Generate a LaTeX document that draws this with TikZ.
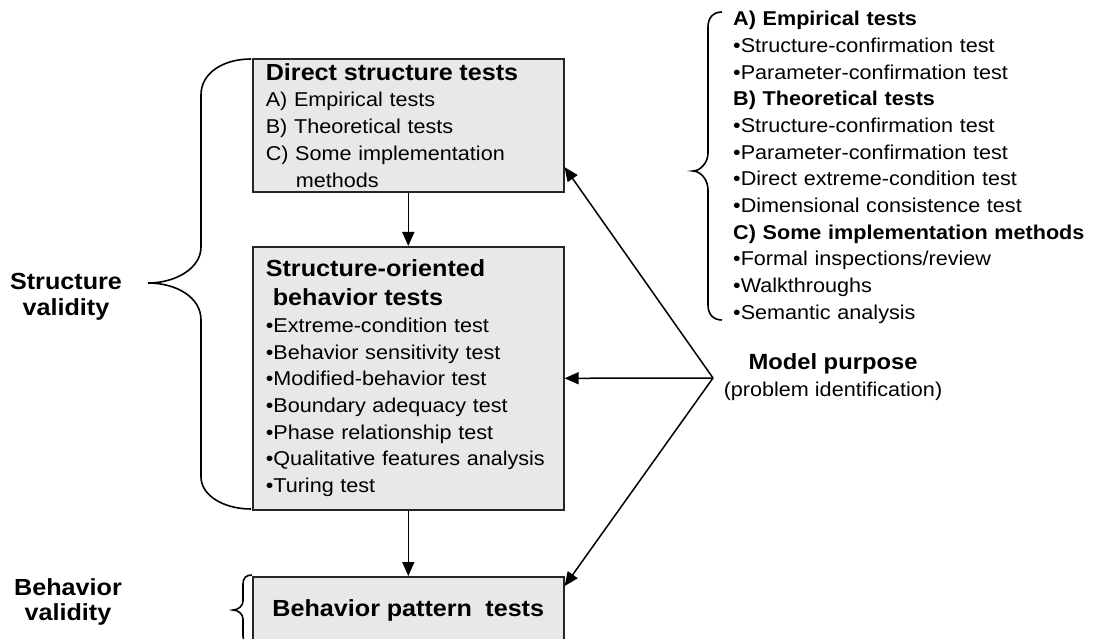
\documentclass[tikz,border=0pt]{standalone}
\usepackage{fontspec}
\setmainfont[FakeStretch=1.08]{Liberation Sans}
\usetikzlibrary{arrows.meta}
\definecolor{boxgray}{RGB}{232,232,232}

\begin{document}
\begin{tikzpicture}[x=1pt,y=-1pt,
  testbox/.style={draw=black!85, line width=1.6pt, fill=boxgray, anchor=north west,
    minimum width=311pt, text width=285pt, inner xsep=13pt, inner ysep=0pt,
    align=left, font=\fontsize{20}{26.7}\selectfont},
  arr/.style={line width=1.5pt, -{Triangle[length=14pt,width=12pt]}},
  brace/.style={line width=1.6pt},
  hd/.style={font=\fontsize{23.3}{25.5}\selectfont\bfseries, align=center}]
\useasboundingbox (0,0) rectangle (1093,639);
\clip (0,0) rectangle (1093,639);

% the three groups of tests
\node[testbox, minimum height=133pt] (direct) at (252,58) {%
  {\fontsize{23.3}{28}\selectfont\bfseries Direct structure tests\par}
  A) Empirical tests\\
  B) Theoretical tests\\
  C) Some implementation\\
  \hspace*{30pt}methods};
\node[testbox, minimum height=263pt] (sobt) at (252,246) {%
  {\fontsize{23.3}{29}\selectfont\bfseries Structure-oriented\\
  \hspace*{7pt}behavior tests\par}
  •Extreme-condition test\\
  •Behavior sensitivity test\\
  •Modified-behavior test\\
  •Boundary adequacy test\\
  •Phase relationship test\\
  •Qualitative features analysis\\
  •Turing test\par\vspace*{-8pt}};
\node[testbox, minimum height=68pt, align=center] (bpt) at (252,576) {%
  \fontsize{23.3}{28}\selectfont\bfseries Behavior pattern\ \ tests};

\draw[arr] (direct.south) -- (sobt.north);
\draw[arr] (sobt.south) -- (bpt.north);

% model purpose
\node[font=\fontsize{22}{24}\selectfont\bfseries] (purpose) at (833,364) {Model purpose};
\node[font=\fontsize{20}{24}\selectfont] (problem) at (833,391) {(problem identification)};
\coordinate (apex) at (713,378);
\draw[arr] (apex) -- (direct.-15.6);
\draw[arr] (apex) -- (sobt.east);
\draw[arr] (apex) -- (bpt.9);

% list of direct structure tests
\node[anchor=north west, text width=360pt, inner sep=0pt, align=left,
      font=\fontsize{20}{26.7}\selectfont] (list) at (733,11) {%
  \textbf{A) Empirical tests}\\
  •Structure-confirmation test\\
  •Parameter-confirmation test\\
  \textbf{B) Theoretical tests}\\
  •Structure-confirmation test\\
  •Parameter-confirmation test\\
  •Direct extreme-condition test\\
  •Dimensional consistence test\\
  \textbf{C) Some implementation methods}\\
  •Formal inspections/review\\
  •Walkthroughs\\
  •Semantic analysis};

% validity labels
\node[hd] (strval) at (66,297) {Structure\\validity};
\node[hd] (behval) at (68,602) {Behavior\\validity};

% braces
\draw[brace] (251,59) .. controls (223,59) and (201,73) .. (201,95) -- (201,247)
  .. controls (201,268) and (176,283) .. (148,283)
  .. controls (176,283) and (201,297) .. (201,320) -- (201,477)
  .. controls (201,495) and (223,509) .. (251,509);
\draw[brace] (722,12) .. controls (713,12) and (708,18) .. (708,27) -- (708,153)
  .. controls (708,163) and (700,171) .. (693,171)
  .. controls (700,171) and (708,179) .. (708,190) -- (708,305)
  .. controls (708,314) and (713,320) .. (722,320);
\draw[brace] (252,575) .. controls (246,575) and (243,578) .. (243,584) -- (243,601)
  .. controls (243,606) and (238,610) .. (233,610)
  .. controls (238,610) and (243,614) .. (243,619) -- (243,636)
  .. controls (243,642) and (246,645) .. (252,645);
\end{tikzpicture}
\end{document}
